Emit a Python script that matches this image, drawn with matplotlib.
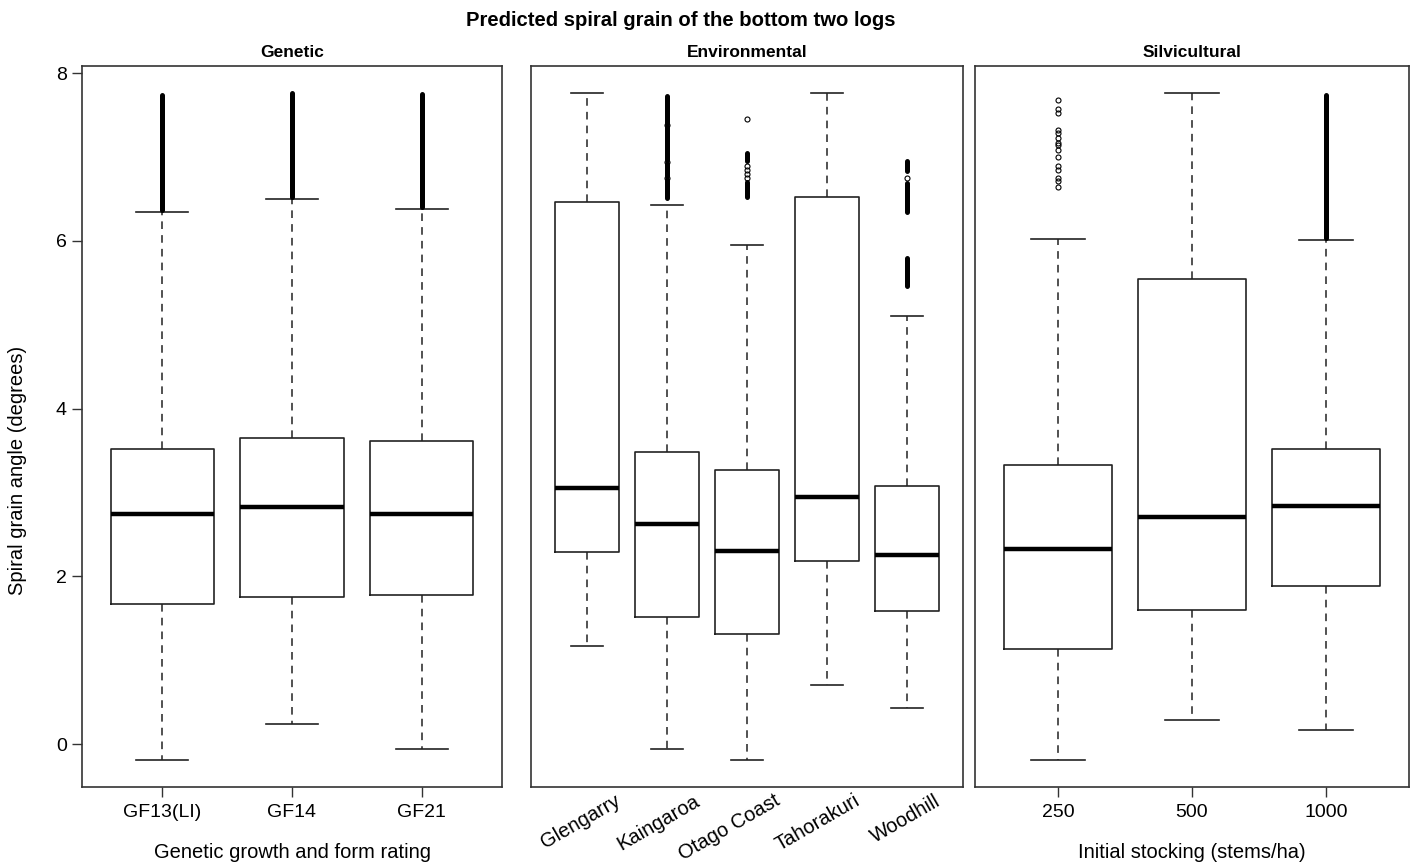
import numpy as np
import matplotlib
matplotlib.use("Agg")
import matplotlib.pyplot as plt
import matplotlib.transforms as mtransforms

plt.rcParams['font.family'] = ['Liberation Sans', 'DejaVu Sans']

# ---- data ----
# stats per box: whisker low, Q1, median, Q3, whisker high
genetic_labels = ['GF13(LI)', 'GF14', 'GF21']
genetic_whislo = [-0.19, 0.24, -0.06]
genetic_q1 = [1.675, 1.76, 1.775]
genetic_med = [2.74, 2.83, 2.75]
genetic_q3 = [3.52, 3.655, 3.62]
genetic_whishi = [6.345, 6.50, 6.38]
genetic_points = [[], [], []]
genetic_dense = [[(6.37, 7.74)], [(6.52, 7.77)], [(6.40, 7.75)]]

env_labels = ['Glengarry', 'Kaingaroa', 'Otago Coast', 'Tahorakuri', 'Woodhill']
env_whislo = [1.17, -0.06, -0.19, 0.71, 0.43]
env_q1 = [2.29, 1.515, 1.31, 2.19, 1.59]
env_med = [3.05, 2.63, 2.30, 2.95, 2.26]
env_q3 = [6.46, 3.49, 3.27, 6.52, 3.08]
env_whishi = [7.76, 6.43, 5.95, 7.77, 5.11]
env_points = [[], [6.755, 6.945, 7.385],
              [7.45, 6.90, 6.85, 6.80, 6.75],
              [], [6.75]]
env_dense = [[], [(6.51, 6.74), (6.77, 6.93), (6.96, 7.37), (7.40, 7.73)],
             [(6.52, 6.70), (6.95, 7.05)],
             [], [(5.46, 5.80), (6.34, 6.69), (6.84, 6.95)]]

silv_labels = ['250', '500', '1000']
silv_whislo = [-0.19, 0.29, 0.17]
silv_q1 = [1.14, 1.60, 1.89]
silv_med = [2.33, 2.71, 2.845]
silv_q3 = [3.33, 5.55, 3.52]
silv_whishi = [6.02, 7.77, 6.01]
silv_points = [[7.68, 7.57, 7.53, 7.32, 7.29, 7.23, 7.17, 7.14, 7.08, 7.00,
                6.89, 6.85, 6.75, 6.72, 6.64], [], []]
silv_dense = [[], [], [(6.04, 7.74)]]

panel_titles = ['Genetic', 'Environmental', 'Silvicultural']
panel_xlabels = ['Genetic growth and form rating', '', 'Initial stocking (stems/ha)']
yticks = [0, 2, 4, 6, 8]

panels = [
    (genetic_labels, genetic_whislo, genetic_q1, genetic_med, genetic_q3, genetic_whishi, genetic_points, genetic_dense),
    (env_labels, env_whislo, env_q1, env_med, env_q3, env_whishi, env_points, env_dense),
    (silv_labels, silv_whislo, silv_q1, silv_med, silv_q3, silv_whishi, silv_points, silv_dense),
]

# ---- layout ----
W, H = 1419, 865
fig = plt.figure(figsize=(W / 100, H / 100), dpi=100)
bottom = (H - 787) / H
height = (787 - 65.7) / H
lefts = [82, 531, 975]
rights = [502, 963, 1409]

frame_col = '#333333'
box_col = '#222222'

for i, (labels, wlo, q1, med, q3, whi, pts, dense) in enumerate(panels):
    ax = fig.add_axes([lefts[i] / W, bottom, (rights[i] - lefts[i]) / W, height])
    n = len(labels)
    stats = []
    for j in range(n):
        stats.append(dict(whislo=wlo[j], q1=q1[j], med=med[j], q3=q3[j],
                          whishi=whi[j], fliers=np.array(pts[j])))
    pos = np.arange(1, n + 1)
    ax.bxp(stats, positions=pos, widths=0.8, capwidths=0.4, showfliers=True,
           boxprops=dict(color=box_col, linewidth=1.2),
           medianprops=dict(color='black', linewidth=3.2, solid_capstyle='butt'),
           whiskerprops=dict(color=box_col, linewidth=1.1, linestyle=(0, (5, 4))),
           capprops=dict(color=box_col, linewidth=1.2),
           flierprops=dict(marker='o', markersize=3.6, markerfacecolor='none',
                           markeredgecolor='black', markeredgewidth=0.8, linestyle='none'))
    # dense runs of overlapping outliers
    for j in range(n):
        for lo, hi in dense[j]:
            lc = ax.vlines(pos[j], lo, hi, color='black', linewidth=3.6)
            lc.set_capstyle('round')

    ax.set_xlim(0.5 - 0.04 * n, n + 0.5 + 0.04 * n)
    ax.set_ylim(-0.51, 8.09)
    for s in ax.spines.values():
        s.set_color(frame_col)
        s.set_linewidth(1.2)

    ax.text(0.5, 1.0 + 12.7 / 721, panel_titles[i], transform=ax.transAxes,
            ha='center', va='center', fontsize=12.5, fontweight='bold')

    if i == 0:
        ax.set_yticks(yticks)
        ax.tick_params(axis='y', length=7, width=1, color=frame_col, labelsize=14, pad=4)
    else:
        ax.set_yticks([])

    ax.set_xticks(pos)
    if i == 1:
        ax.tick_params(axis='x', length=0, pad=3)
        ax.set_xticklabels(labels, rotation=30, ha='right', va='top',
                           rotation_mode='anchor', fontsize=14.5)
        offset = mtransforms.ScaledTranslation(0.27, 0.0, fig.dpi_scale_trans)
        for lab in ax.get_xticklabels():
            lab.set_transform(lab.get_transform() + offset)
    else:
        ax.set_xticklabels(labels, fontsize=14)
        ax.tick_params(axis='x', length=7, width=1, color=frame_col, pad=5)
        ax.set_xlabel(panel_xlabels[i], fontsize=14.5, labelpad=16)

fig.text(18 / W, 1 - 470 / H, 'Spiral grain angle (degrees)', rotation=90,
         ha='center', va='center', fontsize=14.5)
fig.text(681 / W, 1 - 20 / H, 'Predicted spiral grain of the bottom two logs',
         ha='center', va='center', fontsize=14.6, fontweight='bold')

fig.savefig('out.png', dpi=100)
